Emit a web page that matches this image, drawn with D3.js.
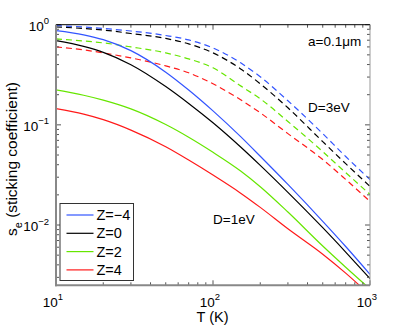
<!DOCTYPE html>
<html>
<head>
<meta charset="utf-8">
<script src="https://cdn.jsdelivr.net/npm/d3@7"></script>
<style>
  body { margin: 0; background: #fff; }
  svg { display: block; font-family: "Liberation Sans", Arial, sans-serif; }
</style>
</head>
<body>
<div id="chart"></div>
<script>
// temperature grid (K)
var temps = [10, 15, 20, 30, 50, 70, 100, 150, 200, 300, 500, 700, 1000];

// solid lines, D=1eV
var d1_zm4 = [0.872, 0.793, 0.709, 0.551, 0.336, 0.223, 0.138, 0.0763, 0.0486, 0.0254, 0.01088, 0.0061, 0.00322];
var d1_z0  = [0.693, 0.607, 0.530, 0.399, 0.2415, 0.1637, 0.1049, 0.0601, 0.0394, 0.0212, 0.0094, 0.00537, 0.00292];
var d1_z2  = [0.224, 0.1975, 0.1765, 0.1443, 0.1007, 0.0752, 0.0532, 0.0346, 0.0241, 0.01347, 0.00617, 0.00379, 0.0023];
var d1_z4  = [0.145, 0.1278, 0.1126, 0.0886, 0.0604, 0.0445, 0.0315, 0.0208, 0.0150, 0.00917, 0.00511, 0.00331, 0.0020];

// dashed lines, D=3eV
var d3_zm4 = [0.977, 0.950, 0.917, 0.865, 0.780, 0.705, 0.586, 0.416, 0.302, 0.174, 0.0817, 0.0483, 0.0285];
var d3_z0  = [0.949, 0.917, 0.885, 0.817, 0.729, 0.643, 0.523, 0.362, 0.257, 0.148, 0.068, 0.041, 0.0243];
var d3_z2  = [0.721, 0.688, 0.658, 0.600, 0.523, 0.456, 0.371, 0.245, 0.182, 0.108, 0.054, 0.0334, 0.0202];
var d3_z4  = [0.600, 0.560, 0.523, 0.466, 0.388, 0.331, 0.257, 0.178, 0.132, 0.0817, 0.045, 0.0285, 0.0172];

var legendLabels = ["Z=\u22124", "Z=0", "Z=2", "Z=4"];
var colors = ["#3355ff", "#000000", "#66e600", "#ff1a1a"];
var xTicks = [10, 100, 1000];
var xTickExp = ["1", "2", "3"];
var yTicks = [1, 0.1, 0.01];
var yTickExp = ["0", "\u22121", "\u22122"];

var width = 409, height = 327;
var pLeft = 56, pRight = 370, pTop = 24.7, pBottom = 285.3;

var svg = d3.select("#chart").append("svg")
    .attr("width", width)
    .attr("height", height);

var x = d3.scaleLog().domain([10, 1000]).range([pLeft, pRight]);
var y = d3.scaleLog().domain([0.0025, 1]).range([pBottom, pTop]);

svg.append("defs").append("clipPath").attr("id", "plotclip")
    .append("rect")
    .attr("x", pLeft).attr("y", pTop)
    .attr("width", pRight - pLeft).attr("height", pBottom - pTop);

var line = d3.line()
    .x(function(d){ return x(d[0]); })
    .y(function(d){ return y(d[1]); })
    .curve(d3.curveMonotoneX);

var plot = svg.append("g").attr("clip-path", "url(#plotclip)");

var dashed = [d3_zm4, d3_z0, d3_z2, d3_z4];
var solid = [d1_zm4, d1_z0, d1_z2, d1_z4];

dashed.forEach(function(vals, i){
    plot.append("path")
        .attr("d", line(temps.map(function(t, j){ return [t, vals[j]]; })))
        .attr("fill", "none")
        .attr("stroke", colors[i])
        .attr("stroke-width", 1.2)
        .attr("stroke-dasharray", "6,4");
});

solid.forEach(function(vals, i){
    plot.append("path")
        .attr("d", line(temps.map(function(t, j){ return [t, vals[j]]; })))
        .attr("fill", "none")
        .attr("stroke", colors[i])
        .attr("stroke-width", 1.2);
});

// minor + major ticks on all four sides, pointing inward
var xMinor = [], yMinor = [];
[10, 100].forEach(function(b){ for (var k = 2; k < 10; k++) xMinor.push(b * k); });
[0.001, 0.01, 0.1].forEach(function(b){ for (var k = 2; k < 10; k++) if (b * k >= 0.0025) yMinor.push(b * k); });

var ticks = svg.append("g").attr("stroke", "#555").attr("stroke-width", 1);
xMinor.concat(xTicks).forEach(function(t){
    var len = xTicks.indexOf(t) >= 0 ? 5 : 3;
    ticks.append("line").attr("x1", x(t)).attr("x2", x(t)).attr("y1", pBottom).attr("y2", pBottom - len);
    ticks.append("line").attr("x1", x(t)).attr("x2", x(t)).attr("y1", pTop).attr("y2", pTop + len);
});
yMinor.concat(yTicks).forEach(function(t){
    var len = yTicks.indexOf(t) >= 0 ? 5 : 3;
    ticks.append("line").attr("y1", y(t)).attr("y2", y(t)).attr("x1", pLeft).attr("x2", pLeft + len);
    ticks.append("line").attr("y1", y(t)).attr("y2", y(t)).attr("x1", pRight).attr("x2", pRight - len);
});

// box
svg.append("line").attr("x1", pLeft).attr("x2", pRight).attr("y1", pTop).attr("y2", pTop)
    .attr("stroke", "#000").attr("stroke-width", 1);
svg.append("line").attr("x1", pRight).attr("x2", pRight).attr("y1", pTop).attr("y2", pBottom)
    .attr("stroke", "#999").attr("stroke-width", 1);
svg.append("line").attr("x1", pLeft).attr("x2", pLeft).attr("y1", pTop).attr("y2", pBottom + 1)
    .attr("stroke", "#888").attr("stroke-width", 2);
svg.append("line").attr("x1", pLeft - 1).attr("x2", pRight).attr("y1", pBottom).attr("y2", pBottom)
    .attr("stroke", "#888").attr("stroke-width", 2);

// tick labels
xTicks.forEach(function(t, i){
    var tx = svg.append("text").attr("x", x(t) - 3).attr("y", 306.5)
        .attr("text-anchor", "middle").attr("font-size", 13.5);
    tx.append("tspan").text("10");
    tx.append("tspan").attr("dy", -6.5).attr("font-size", 9.5).text(xTickExp[i]);
});
yTicks.forEach(function(t, i){
    var ty = svg.append("text").attr("x", 49).attr("y", y(t) + 6)
        .attr("text-anchor", "end").attr("font-size", 13.5);
    ty.append("tspan").text("10");
    ty.append("tspan").attr("dy", -6.5).attr("font-size", 9.5).text(yTickExp[i]);
});

// axis labels
svg.append("text").attr("x", 212.5).attr("y", 322)
    .attr("text-anchor", "middle").attr("font-size", 14.5).text("T (K)");

var yl = svg.append("text")
    .attr("transform", "translate(17,159) rotate(-90)")
    .attr("text-anchor", "middle").attr("font-size", 15.5);
yl.append("tspan").text("s");
yl.append("tspan").attr("dy", 4.5).attr("font-size", 11).text("e");
yl.append("tspan").attr("dy", -4.5).text(" (sticking coefficient)");

// annotations
svg.append("text").attr("x", 308).attr("y", 46).attr("font-size", 13.5).text("a=0.1\u03bcm");
svg.append("text").attr("x", 308).attr("y", 112).attr("font-size", 13.5).text("D=3eV");
svg.append("text").attr("x", 213).attr("y", 224).attr("font-size", 13.5).text("D=1eV");

// legend
var lg = svg.append("g");
lg.append("rect").attr("x", 60).attr("y", 203.5).attr("width", 73.5).attr("height", 77)
    .attr("fill", "#fff").attr("stroke", "#333").attr("stroke-width", 1);
legendLabels.forEach(function(lab, i){
    var ly = 215 + i * 18.3;
    lg.append("line").attr("x1", 66.5).attr("x2", 93.5).attr("y1", ly).attr("y2", ly)
        .attr("stroke", colors[i]).attr("stroke-width", 1.2);
    lg.append("text").attr("x", 96.5).attr("y", ly + 5).attr("font-size", 14.5).text(lab);
});
</script>
</body>
</html>
